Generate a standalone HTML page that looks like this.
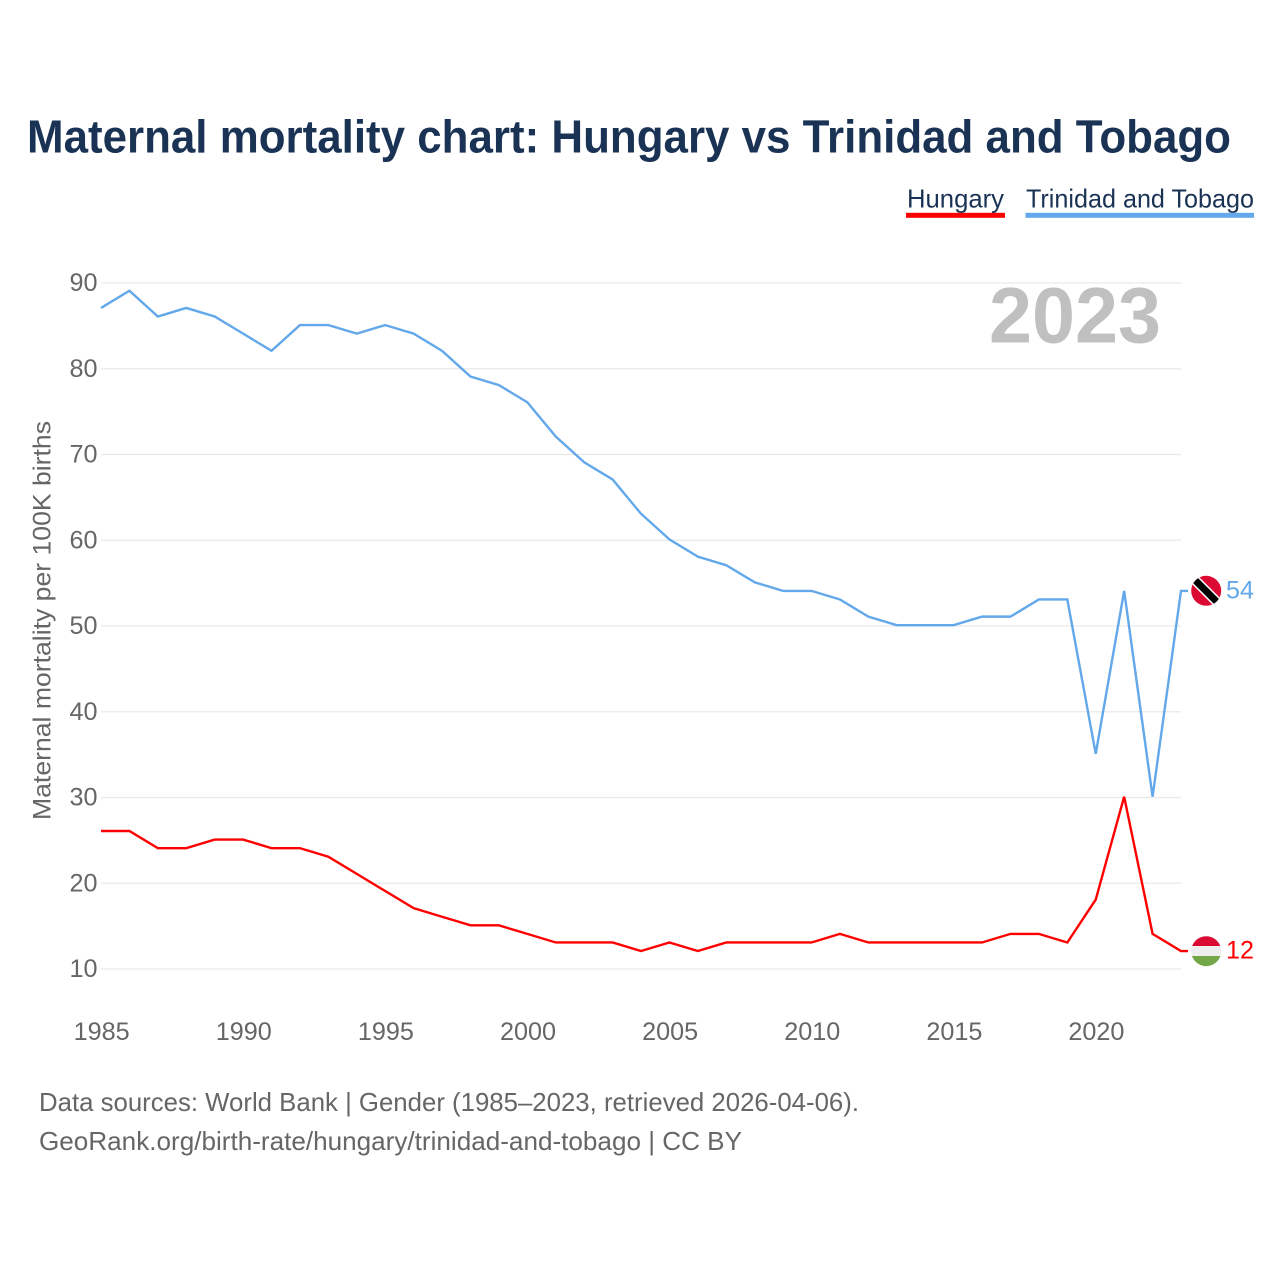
<!DOCTYPE html>
<html lang="en">
<head>
<meta charset="utf-8">
<title>Maternal mortality chart: Hungary vs Trinidad and Tobago</title>
<style>
html,body{margin:0;padding:0;background:#fff;width:1280px;height:1280px;overflow:hidden}
svg{display:block}
text{font-family:"Liberation Sans",sans-serif}
</style>
</head>
<body>
<svg id="chart" xmlns="http://www.w3.org/2000/svg" width="1280" height="1280" viewBox="0 0 1280 1280">
  <defs>
    <clipPath id="clip-tt"><circle cx="1206.2" cy="590.8" r="15"/></clipPath>
    <clipPath id="clip-hu"><circle cx="1206.2" cy="951.2" r="15"/></clipPath>
  </defs>
  <text x="27" y="152.5" font-size="46" font-weight="700" fill="#1a3355" textLength="1204" lengthAdjust="spacingAndGlyphs">Maternal mortality chart: Hungary vs Trinidad and Tobago</text>

  <g>
    <g>
      <text x="907" y="207.5" font-size="26" fill="#1a3355" textLength="97" lengthAdjust="spacingAndGlyphs">Hungary</text>
      <rect x="906" y="212.8" width="99" height="5" fill="#ff0000"/>
    </g>
    <g>
      <text x="1026" y="207.5" font-size="26" fill="#1a3355" textLength="228" lengthAdjust="spacingAndGlyphs">Trinidad and Tobago</text>
      <rect x="1025.5" y="212.8" width="228.5" height="5" fill="#62a8ea"/>
    </g>
  </g>

  <g id="grid"></g>
  <g id="yticks"></g>
  <g id="xticks"></g>

  <text transform="translate(50.5,620.5) rotate(-90)" text-anchor="middle" font-size="25" fill="#666666" textLength="399" lengthAdjust="spacingAndGlyphs">Maternal mortality per 100K births</text>

  <text x="1161" y="342.5" text-anchor="end" font-size="79" font-weight="700" fill="#c0c0c0" textLength="172" lengthAdjust="spacingAndGlyphs">2023</text>

  <g id="series"></g>

  <g>
    <g clip-path="url(#clip-tt)">
      <rect x="1190" y="575" width="32" height="32" fill="#da0a33"/>
      <line x1="1190" y1="575" x2="1222" y2="607" stroke="#ffffff" stroke-width="10"/>
      <line x1="1190" y1="575" x2="1222" y2="607" stroke="#000000" stroke-width="7"/>
    </g>
  </g>
  <g>
    <g clip-path="url(#clip-hu)">
      <rect x="1190" y="935" width="32" height="11" fill="#da0a33"/>
      <rect x="1190" y="946" width="32" height="10" fill="#eeeeee"/>
      <rect x="1190" y="956" width="32" height="11" fill="#73a647"/>
    </g>
  </g>
  <g id="endlabels"></g>

  <text x="39" y="1111" font-size="26" fill="#666666" textLength="820" lengthAdjust="spacingAndGlyphs">Data sources: World Bank | Gender (1985–2023, retrieved 2026-04-06).</text>
  <text x="39" y="1150" font-size="26" fill="#666666" textLength="703" lengthAdjust="spacingAndGlyphs">GeoRank.org/birth-rate/hungary/trinidad-and-tobago | CC BY</text>
</svg>
<script>
const years = [1985,1986,1987,1988,1989,1990,1991,1992,1993,1994,1995,1996,1997,1998,1999,2000,2001,2002,2003,2004,2005,2006,2007,2008,2009,2010,2011,2012,2013,2014,2015,2016,2017,2018,2019,2020,2021,2022,2023];
const hungaryValues = [26,26,24,24,25,25,24,24,23,21,19,17,16,15,15,14,13,13,13,12,13,12,13,13,13,13,14,13,13,13,13,13,14,14,13,18,30,14,12];
const trinidadValues = [87,89,86,87,86,84,82,85,85,84,85,84,82,79,78,76,72,69,67,63,60,58,57,55,54,54,53,51,50,50,50,51,51,53,53,35,54,30,54];
const yTickValues = [10,20,30,40,50,60,70,80,90];
const xTickValues = [1985,1990,1995,2000,2005,2010,2015,2020];

const NS = 'http://www.w3.org/2000/svg';
const xScale = function (year) { return 101 + (year - 1985) * (1181 - 101) / (2023 - 1985); };
const yScale = function (value) { return 969 - (value - 10) * (969 - 283) / (90 - 10); };
const lineOffset = -0.8;

const gridGroup = document.getElementById('grid');
const yTickGroup = document.getElementById('yticks');
const xTickGroup = document.getElementById('xticks');
const seriesGroup = document.getElementById('series');
const endLabelGroup = document.getElementById('endlabels');

yTickValues.forEach(function (v) {
  const line = document.createElementNS(NS, 'line');
  line.setAttribute('x1', 101);
  line.setAttribute('x2', 1181);
  line.setAttribute('y1', yScale(v));
  line.setAttribute('y2', yScale(v));
  line.setAttribute('stroke', '#e9e9e9');
  line.setAttribute('stroke-width', 1.2);
  
  
  gridGroup.appendChild(line);

  const label = document.createElementNS(NS, 'text');
  label.setAttribute('x', 97.5);
  label.setAttribute('y', yScale(v) + 8);
  label.setAttribute('text-anchor', 'end');
  label.setAttribute('font-size', 25);
  label.setAttribute('fill', '#666666');
  label.setAttribute('textLength', 28);
  label.setAttribute('lengthAdjust', 'spacingAndGlyphs');
  
  
  label.textContent = String(v);
  yTickGroup.appendChild(label);
});

xTickValues.forEach(function (t) {
  const label = document.createElementNS(NS, 'text');
  label.setAttribute('x', xScale(t) + 0.7);
  label.setAttribute('y', 1040);
  label.setAttribute('text-anchor', 'middle');
  label.setAttribute('font-size', 25);
  label.setAttribute('fill', '#666666');
  label.setAttribute('textLength', 56);
  label.setAttribute('lengthAdjust', 'spacingAndGlyphs');
  
  
  label.textContent = String(t);
  xTickGroup.appendChild(label);
});

function drawSeries(values, color, slug) {
  const pts = values.map(function (v, i) { return xScale(years[i]).toFixed(2) + ',' + (yScale(v) + lineOffset).toFixed(2); });
  const lastY = (yScale(values[values.length - 1]) + lineOffset).toFixed(2);
  pts.push('1188,' + lastY);
  const path = document.createElementNS(NS, 'polyline');
  path.setAttribute('points', pts.join(' '));
  path.setAttribute('fill', 'none');
  path.setAttribute('stroke', color);
  path.setAttribute('stroke-width', 2.4);
  path.setAttribute('stroke-linejoin', 'miter');
  
  
  seriesGroup.appendChild(path);

  const label = document.createElementNS(NS, 'text');
  label.setAttribute('x', 1226);
  label.setAttribute('y', Number(lastY) + 7.5);
  label.setAttribute('font-size', 25);
  label.setAttribute('fill', color);
  label.setAttribute('textLength', 28);
  label.setAttribute('lengthAdjust', 'spacingAndGlyphs');
  
  
  label.textContent = String(values[values.length - 1]);
  endLabelGroup.appendChild(label);
}
drawSeries(trinidadValues, '#62a8ea', 'trinidad-and-tobago');
drawSeries(hungaryValues, '#ff0000', 'hungary');
</script>
</body>
</html>
